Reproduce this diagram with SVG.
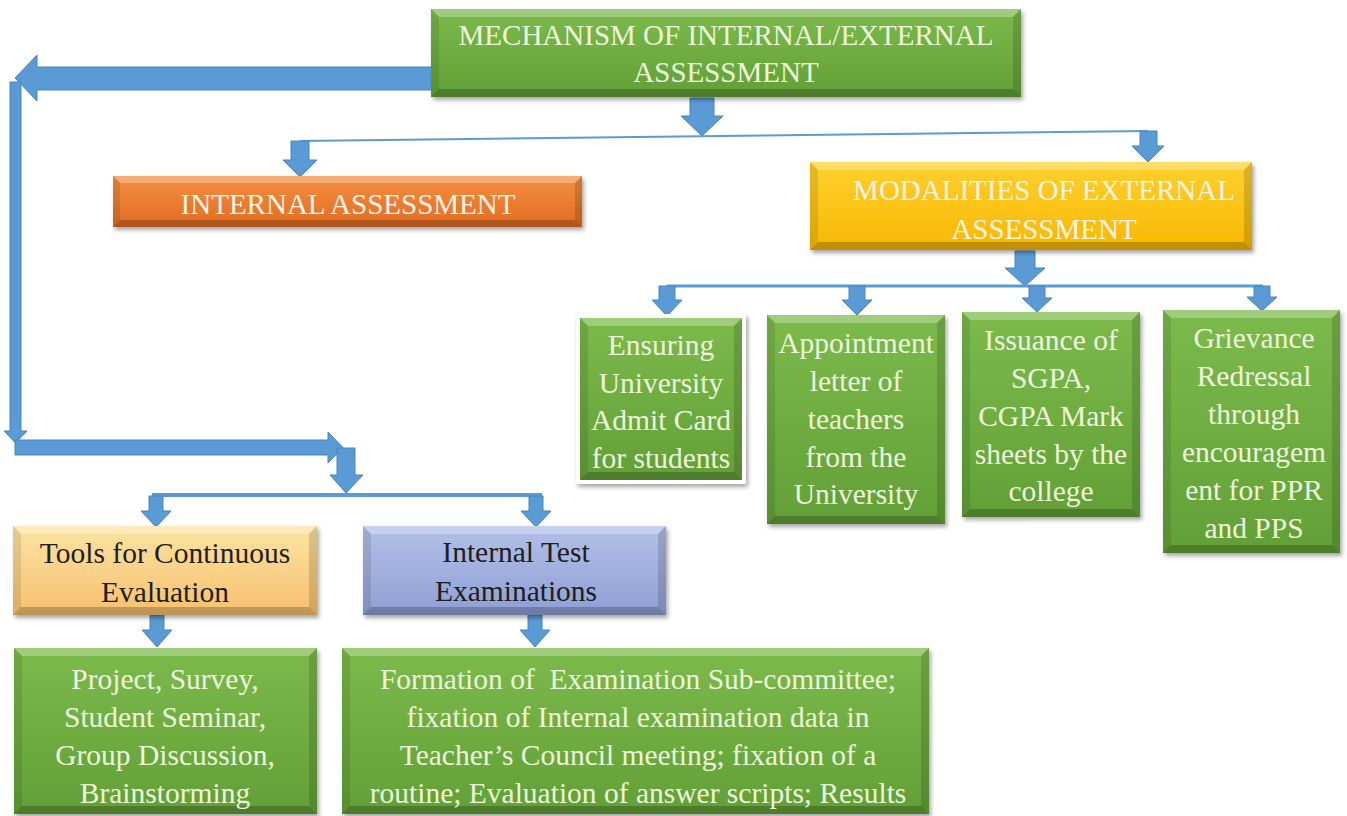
<svg xmlns="http://www.w3.org/2000/svg" width="1347" height="816" viewBox="0 0 1347 816">
<defs>
<linearGradient id="gGreen" x1="0" y1="0" x2="0" y2="1"><stop offset="0" stop-color="#7cba4c"/><stop offset="1" stop-color="#62a037"/></linearGradient>
<linearGradient id="gOrange" x1="0" y1="0" x2="0" y2="1"><stop offset="0" stop-color="#f38f40"/><stop offset="1" stop-color="#e26c22"/></linearGradient>
<linearGradient id="gGold" x1="0" y1="0" x2="0" y2="1"><stop offset="0" stop-color="#ffd030"/><stop offset="1" stop-color="#f8b800"/></linearGradient>
<linearGradient id="gPeach" x1="0" y1="0" x2="0" y2="1"><stop offset="0" stop-color="#fde3a3"/><stop offset="1" stop-color="#f6c06e"/></linearGradient>
<linearGradient id="gLav" x1="0" y1="0" x2="0" y2="1"><stop offset="0" stop-color="#b3c0e8"/><stop offset="1" stop-color="#8e9fd4"/></linearGradient>
<filter id="sh" x="-10%" y="-10%" width="120%" height="130%"><feDropShadow dx="2" dy="3" stdDeviation="2" flood-color="#000" flood-opacity="0.35"/></filter>
<style>
.arr{fill:#5b9bd5;stroke:#4a84bb;stroke-width:1}
.ln{stroke:#5b9bd5;fill:none}
.bt{fill:#ffffff;fill-opacity:0.28}
.bl{fill:#000;fill-opacity:0.10}
.br{fill:#000;fill-opacity:0.14}
.bb{fill:#000;fill-opacity:0.22}
.t{font-family:"Liberation Serif","Times New Roman",serif;font-size:29.5px;text-anchor:middle;white-space:pre}
.h{font-size:29px}
.lt{fill:#eef5dc}
.wt{fill:#fdf3e6}
.dk{fill:#1e1e1e}
</style>
</defs>

<g id="connectors">
<polygon class="arr" points="432,67 37,67 37,55 15,78 37,101 37,90 432,90"/>
<polygon class="arr" points="10,82 21,82 21,431 27,431 15.5,443 4,431 10,431"/>
<polygon class="arr" points="15,440 328,440 328,432 343,447.5 328,463 328,455 15,455"/>
<polygon class="arr" points="337,448 355,448 355,475 363,475 346,493 330,475 337,475"/>
<rect x="152" y="493" width="390" height="4" fill="#5b9bd5"/>
<polygon class="arr" points="149,496 163,496 163,511 171,511 156,527 141,511 149,511"/>
<polygon class="arr" points="529,496 543,496 543,511 551,511 536,527 521,511 529,511"/>
<polygon class="arr" points="150,615 164,615 164,630 172,630 157,647 142,630 150,630"/>
<polygon class="arr" points="528,615 542,615 542,630 550,630 535,647 520,630 528,630"/>
<polygon class="arr" points="690,98 714,98 714,116 723,116 702,136 681,116 690,116"/>
<line class="ln" x1="300" y1="141" x2="1148" y2="131" stroke-width="2"/>
<polygon class="arr" points="291,141 309,141 309,160 317,160 300,177 283,160 291,160"/>
<polygon class="arr" points="1140,131 1157,131 1157,146 1164,146 1148,162 1132,146 1140,146"/>
<polygon class="arr" points="1015,251 1035,251 1035,268 1045,268 1025,286 1005,268 1015,268"/>
<line class="ln" x1="667" y1="286" x2="1263" y2="286" stroke-width="3"/>
<polygon class="arr" points="659,286 675,286 675,300 682,300 667,316 652,300 659,300"/>
<polygon class="arr" points="849,286 865,286 865,300 872,300 857,315 842,300 849,300"/>
<polygon class="arr" points="1029,286 1045,286 1045,298 1052,298 1037,312 1022,298 1029,298"/>
<polygon class="arr" points="1254,286 1270,286 1270,297 1277,297 1262,311 1247,297 1254,297"/>
</g>

<g id="node-mechanism">
<rect x="431" y="9" width="590" height="88" fill="url(#gGreen)" filter="url(#sh)"/>
<polygon class="bt" points="431,9 1021,9 1013,17 439,17"/>
<polygon class="bb" points="431,97 1021,97 1013,89 439,89"/>
<polygon class="bl" points="431,9 439,17 439,89 431,97"/>
<polygon class="br" points="1021,9 1013,17 1013,89 1021,97"/>
<text class="t h lt" x="726" y="45">MECHANISM OF INTERNAL/EXTERNAL</text>
<text class="t h lt" x="726" y="82">ASSESSMENT</text>
</g>

<g id="node-internal">
<rect x="113" y="176" width="469" height="51" fill="url(#gOrange)" filter="url(#sh)"/>
<polygon class="bt" points="113,176 582,176 575,183 120,183"/>
<polygon class="bb" points="113,227 582,227 575,220 120,220"/>
<polygon class="bl" points="113,176 120,183 120,220 113,227"/>
<polygon class="br" points="582,176 575,183 575,220 582,227"/>
<text class="t h wt" x="348" y="214">INTERNAL ASSESSMENT</text>
</g>

<g id="node-modalities">
<rect x="810" y="162" width="442" height="88" fill="url(#gGold)" filter="url(#sh)"/>
<polygon class="bt" points="810,162 1252,162 1244,170 818,170"/>
<polygon class="bb" points="810,250 1252,250 1244,242 818,242"/>
<polygon class="bl" points="810,162 818,170 818,242 810,250"/>
<polygon class="br" points="1252,162 1244,170 1244,242 1252,250"/>
<text class="t h wt" x="1044" y="200">MODALITIES OF EXTERNAL</text>
<text class="t h wt" x="1044" y="239">ASSESSMENT</text>
</g>

<g id="node-ensuring">
<rect x="576" y="314" width="170" height="170" fill="#ffffff" filter="url(#sh)"/>
<rect x="580" y="318" width="162" height="162" fill="url(#gGreen)"/>
<polygon class="bt" points="580,318 742,318 734,326 588,326"/>
<polygon class="bb" points="580,480 742,480 734,472 588,472"/>
<polygon class="bl" points="580,318 588,326 588,472 580,480"/>
<polygon class="br" points="742,318 734,326 734,472 742,480"/>
<text class="t lt" x="661" y="355">Ensuring</text>
<text class="t lt" x="661" y="393">University</text>
<text class="t lt" x="661" y="430">Admit Card</text>
<text class="t lt" x="661" y="468">for students</text>
</g>

<g id="node-appointment">
<rect x="767" y="315" width="178" height="209" fill="url(#gGreen)" filter="url(#sh)"/>
<polygon class="bt" points="767,315 945,315 937,323 775,323"/>
<polygon class="bb" points="767,524 945,524 937,516 775,516"/>
<polygon class="bl" points="767,315 775,323 775,516 767,524"/>
<polygon class="br" points="945,315 937,323 937,516 945,524"/>
<text class="t lt" x="856" y="353">Appointment</text>
<text class="t lt" x="856" y="391">letter of</text>
<text class="t lt" x="856" y="429">teachers</text>
<text class="t lt" x="856" y="467">from the</text>
<text class="t lt" x="856" y="504">University</text>
</g>

<g id="node-issuance">
<rect x="962" y="312" width="178" height="205" fill="url(#gGreen)" filter="url(#sh)"/>
<polygon class="bt" points="962,312 1140,312 1132,320 970,320"/>
<polygon class="bb" points="962,517 1140,517 1132,509 970,509"/>
<polygon class="bl" points="962,312 970,320 970,509 962,517"/>
<polygon class="br" points="1140,312 1132,320 1132,509 1140,517"/>
<text class="t lt" x="1051" y="350">Issuance of</text>
<text class="t lt" x="1051" y="388">SGPA,</text>
<text class="t lt" x="1051" y="426">CGPA Mark</text>
<text class="t lt" x="1051" y="464">sheets by the</text>
<text class="t lt" x="1051" y="501">college</text>
</g>

<g id="node-grievance">
<rect x="1163" y="310" width="177" height="243" fill="url(#gGreen)" filter="url(#sh)"/>
<polygon class="bt" points="1163,310 1340,310 1332,318 1171,318"/>
<polygon class="bb" points="1163,553 1340,553 1332,545 1171,545"/>
<polygon class="bl" points="1163,310 1171,318 1171,545 1163,553"/>
<polygon class="br" points="1340,310 1332,318 1332,545 1340,553"/>
<text class="t lt" x="1254" y="348">Grievance</text>
<text class="t lt" x="1254" y="386">Redressal</text>
<text class="t lt" x="1254" y="424">through</text>
<text class="t lt" x="1254" y="462">encouragem</text>
<text class="t lt" x="1254" y="500">ent for PPR</text>
<text class="t lt" x="1254" y="538">and PPS</text>
</g>

<g id="node-tools">
<rect x="13" y="526" width="304" height="89" fill="url(#gPeach)" filter="url(#sh)"/>
<polygon class="bt" points="13,526 317,526 309,534 21,534"/>
<polygon class="bb" points="13,615 317,615 309,607 21,607"/>
<polygon class="bl" points="13,526 21,534 21,607 13,615"/>
<polygon class="br" points="317,526 309,534 309,607 317,615"/>
<text class="t dk" x="165" y="563">Tools for Continuous</text>
<text class="t dk" x="165" y="602">Evaluation</text>
</g>

<g id="node-internal-test">
<rect x="363" y="526" width="303" height="89" fill="url(#gLav)" filter="url(#sh)"/>
<polygon class="bt" points="363,526 666,526 658,534 371,534"/>
<polygon class="bb" points="363,615 666,615 658,607 371,607"/>
<polygon class="bl" points="363,526 371,534 371,607 363,615"/>
<polygon class="br" points="666,526 658,534 658,607 666,615"/>
<text class="t dk" x="516" y="562">Internal Test</text>
<text class="t dk" x="516" y="601">Examinations</text>
</g>

<g id="node-project">
<rect x="14" y="648" width="303" height="166" fill="url(#gGreen)" filter="url(#sh)"/>
<polygon class="bt" points="14,648 317,648 309,656 22,656"/>
<polygon class="bb" points="14,814 317,814 309,806 22,806"/>
<polygon class="bl" points="14,648 22,656 22,806 14,814"/>
<polygon class="br" points="317,648 309,656 309,806 317,814"/>
<text class="t lt" x="165" y="689">Project, Survey,</text>
<text class="t lt" x="165" y="727">Student Seminar,</text>
<text class="t lt" x="165" y="765">Group Discussion,</text>
<text class="t lt" x="165" y="803">Brainstorming</text>
</g>

<g id="node-formation">
<rect x="342" y="648" width="587" height="166" fill="url(#gGreen)" filter="url(#sh)"/>
<polygon class="bt" points="342,648 929,648 921,656 350,656"/>
<polygon class="bb" points="342,814 929,814 921,806 350,806"/>
<polygon class="bl" points="342,648 350,656 350,806 342,814"/>
<polygon class="br" points="929,648 921,656 921,806 929,814"/>
<text class="t lt" x="638" y="689">Formation of  Examination Sub-committee;</text>
<text class="t lt" x="638" y="727">fixation of Internal examination data in</text>
<text class="t lt" x="638" y="765">Teacher’s Council meeting; fixation of a</text>
<text class="t lt" x="638" y="803">routine; Evaluation of answer scripts; Results</text>
</g>
</svg>
